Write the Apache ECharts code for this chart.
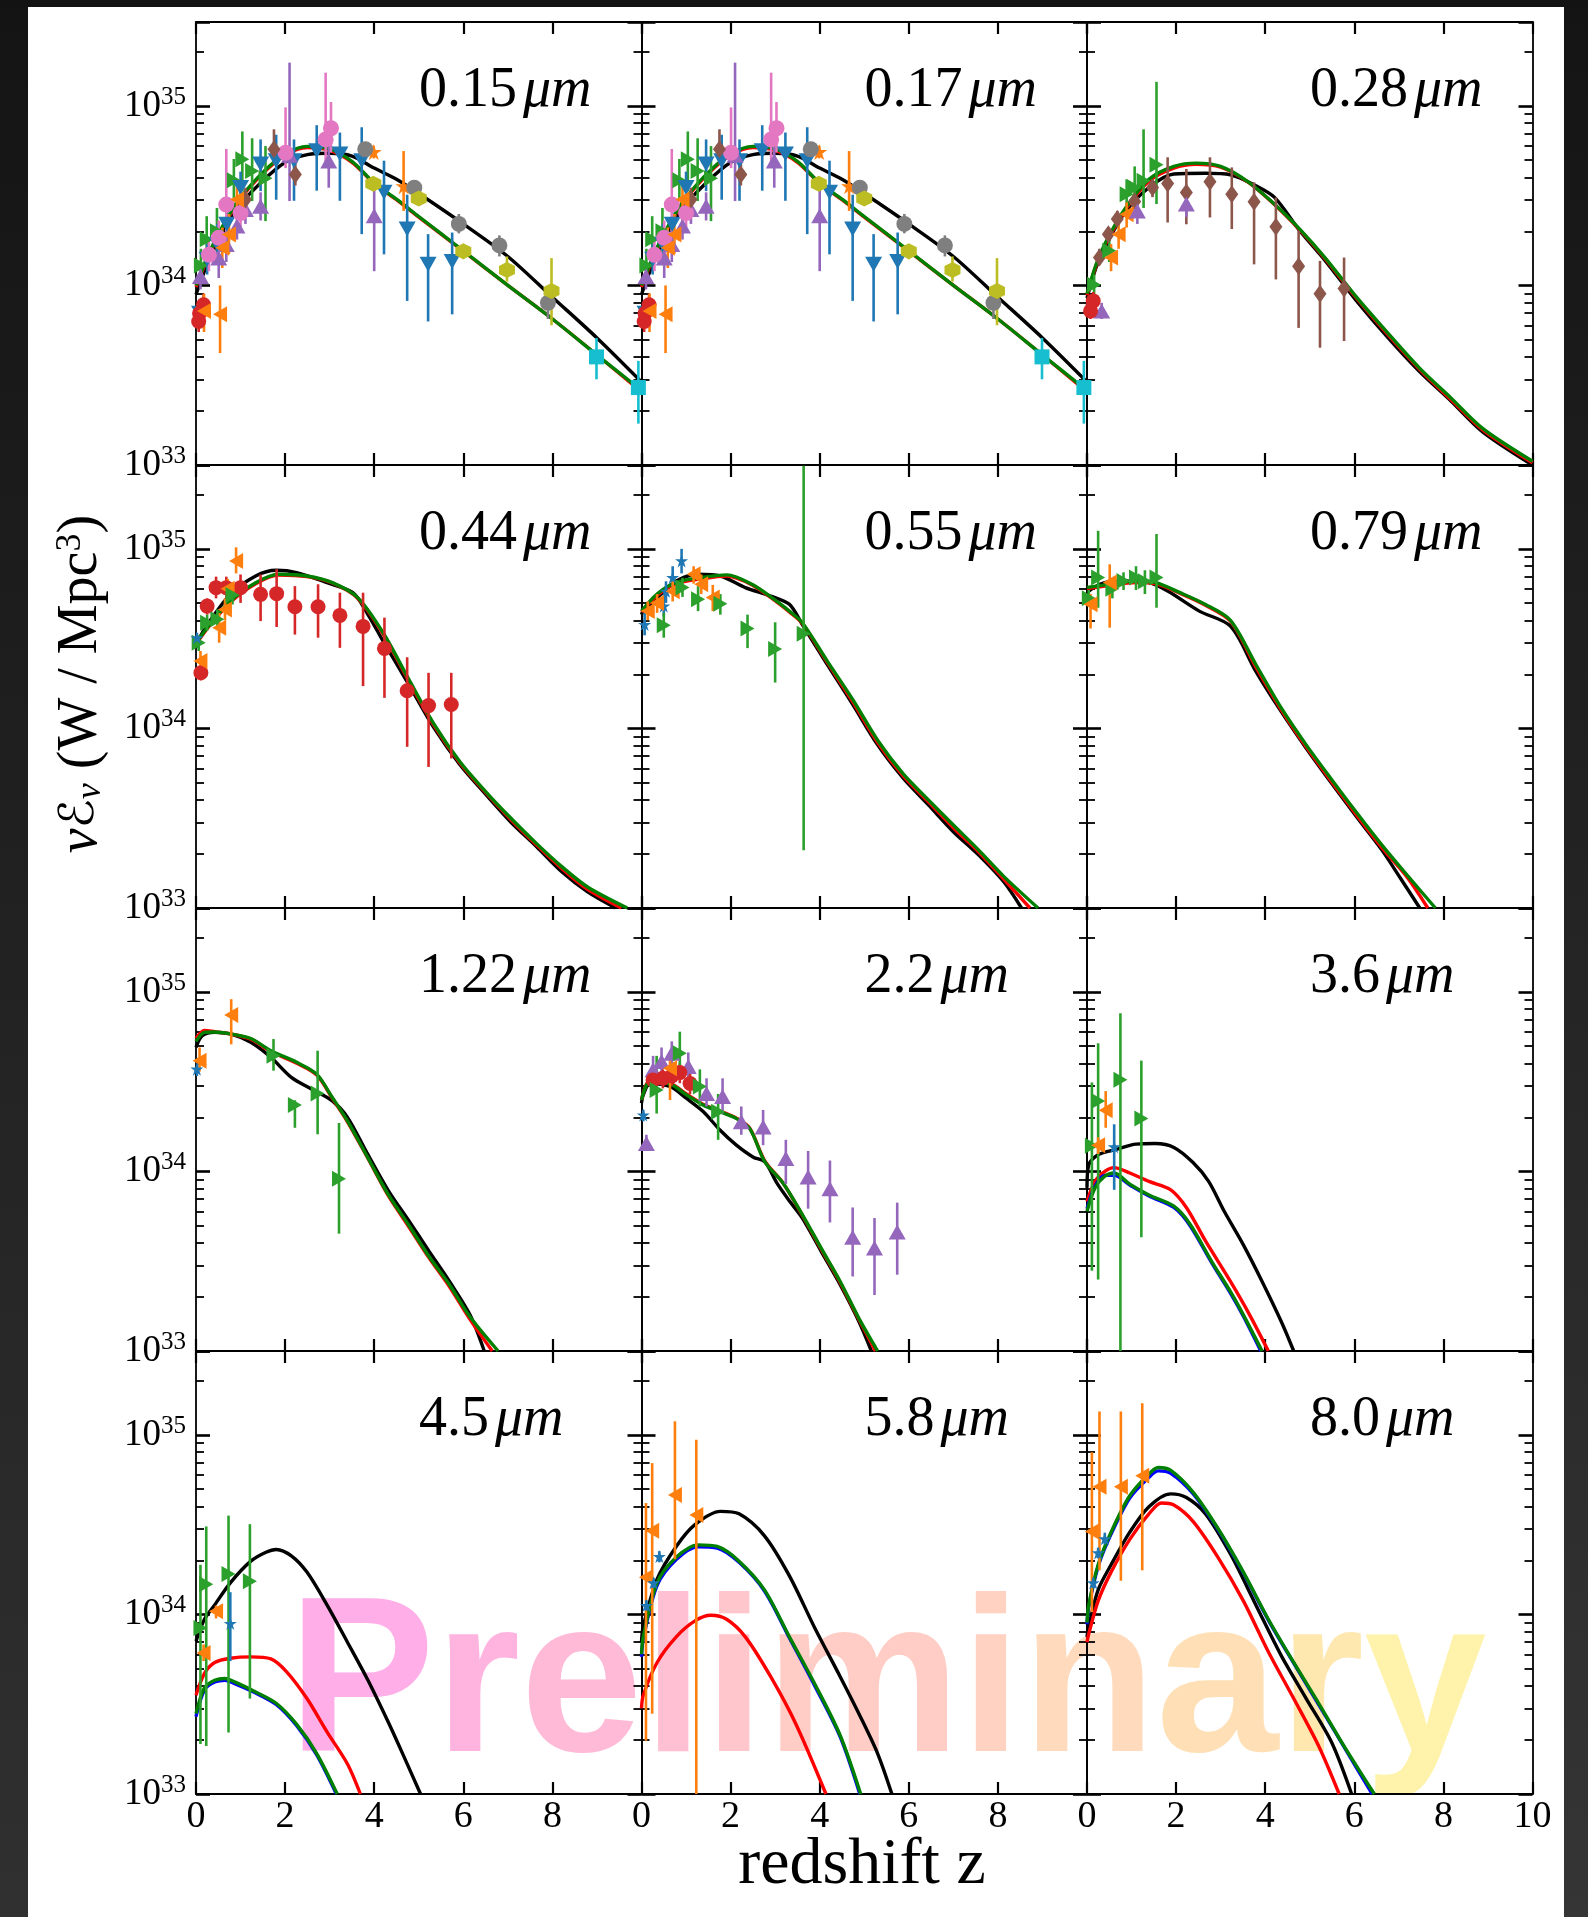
<!DOCTYPE html>
<html>
<head>
<meta charset="utf-8">
<script src="https://cdn.jsdelivr.net/npm/echarts@6/dist/echarts.min.js"></script>
<style>
  html, body { margin: 0; padding: 0; background: #ffffff; }
  #chart { width: 1588px; height: 1917px; }
</style>
</head>
<body>
<div id="chart"></div>
<script>
// Luminosity density nu*E_nu versus redshift for twelve wavebands.
// All luminosity densities are in units of 1e34 W/Mpc^3; the y axes are
// labelled in powers of ten of W/Mpc^3.

const bands = ['0.15', '0.17', '0.28', '0.44', '0.55', '0.79', '1.22', '2.2', '3.6', '4.5', '5.8', '8.0'];
const xTickValues = [0, 2, 4, 6, 8, 10];
const yTickExponents = [33, 34, 35];

// ---- model curves: [z, nuE_nu] ----
const black015 = [[0,0.89],[0.25,1.31],[0.5,1.77],[0.75,2.29],[1,2.84],[1.5,3.83],[2,4.84],[2.5,5.35],[3,5.44],[3.5,5.25],[4,4.5],[4.5,3.9],[5,3.25],[6,2.2],[7,1.45],[8,0.86],[9,0.51],[10,0.29]];
const red015   = [[0,0.98],[0.25,1.4],[0.5,1.9],[0.75,2.45],[1,3.05],[1.5,4.2],[2,5.3],[2.5,5.85],[3,5.65],[3.5,4.85],[4,3.7],[4.5,3.0],[5,2.4],[6,1.55],[7,1.0],[8,0.65],[9,0.41],[10,0.255]];
const green015 = [[0,1.0],[0.25,1.43],[0.5,1.93],[0.75,2.49],[1,3.09],[1.5,4.26],[2,5.39],[2.5,5.95],[3,5.75],[3.5,4.9],[4,3.72],[4.5,3.02],[5,2.42],[6,1.56],[7,1.0],[8,0.65],[9,0.41],[10,0.26]];

const black028 = [[0,0.85],[0.2,1.25],[0.4,1.62],[0.82,2.49],[1.39,3.51],[1.95,4.17],[2.66,4.21],[3.22,4.13],[3.79,3.59],[4.21,3.09],[4.78,2.01],[5.35,1.37],[6.05,0.82],[6.76,0.51],[7.47,0.33],[8.18,0.226],[8.88,0.153],[10,0.1]];
const red028   = [[0,0.88],[0.2,1.28],[0.4,1.67],[0.82,2.55],[1.39,3.8],[1.95,4.5],[2.45,4.72],[3.0,4.55],[3.6,3.78],[4.2,2.83],[4.78,2.03],[5.35,1.4],[6.05,0.85],[6.76,0.53],[7.47,0.34],[8.18,0.23],[8.88,0.157],[10,0.103]];
const green028 = [[0,0.9],[0.2,1.3],[0.4,1.7],[0.82,2.6],[1.39,3.9],[1.95,4.6],[2.45,4.8],[3.0,4.6],[3.6,3.8],[4.2,2.85],[4.78,2.05],[5.35,1.42],[6.05,0.86],[6.76,0.54],[7.47,0.345],[8.18,0.235],[8.88,0.16],[10,0.105]];

const black044 = [[0,2.81],[0.08,3.2],[0.31,3.96],[0.77,5.58],[1.34,7.06],[1.8,7.6],[2.26,7.38],[2.94,6.48],[3.52,5.7],[3.86,4.31],[4.2,3.06],[4.78,1.75],[5.35,1.0],[5.92,0.63],[6.5,0.43],[7.07,0.3],[7.64,0.22],[8.21,0.159],[8.79,0.123],[9.42,0.1]];
const red044   = [[0,2.95],[0.31,3.75],[0.77,5.05],[1.34,6.4],[1.86,7.15],[2.49,7.0],[3.06,6.45],[3.63,5.3],[4.2,3.35],[4.78,1.83],[5.35,1.03],[5.92,0.645],[6.5,0.44],[7.07,0.31],[7.64,0.225],[8.21,0.166],[8.79,0.127],[9.55,0.1]];
const green044 = [[0,2.99],[0.31,3.8],[0.77,5.12],[1.34,6.48],[1.86,7.22],[2.49,7.06],[3.06,6.48],[3.63,5.35],[4.2,3.41],[4.78,1.87],[5.35,1.05],[5.92,0.654],[6.5,0.445],[7.07,0.316],[7.64,0.229],[8.21,0.17],[8.79,0.131],[9.68,0.1]];

const black055 = [[0,4.3],[0.04,4.5],[0.35,5.35],[0.78,6.62],[1.27,7.22],[1.77,7.06],[2.33,6.08],[2.9,5.46],[3.32,4.91],[3.61,3.79],[4.17,2.27],[4.74,1.36],[5.3,0.81],[5.87,0.53],[6.44,0.375],[7.0,0.266],[7.57,0.197],[8.13,0.14],[8.53,0.1]];
const red055   = [[0,4.45],[0.35,5.5],[0.78,6.4],[1.34,6.8],[1.91,7.05],[2.48,6.3],[3.04,5.05],[3.32,4.45],[3.61,3.84],[4.17,2.33],[4.74,1.41],[5.3,0.835],[5.87,0.545],[6.44,0.39],[7.0,0.28],[7.57,0.205],[8.13,0.145],[8.72,0.1]];
const green055 = [[0,4.5],[0.35,5.6],[0.78,6.5],[1.34,6.92],[1.91,7.16],[2.48,6.35],[3.04,5.1],[3.32,4.5],[3.61,3.88],[4.17,2.37],[4.74,1.45],[5.3,0.86],[5.87,0.56],[6.44,0.4],[7.0,0.29],[7.57,0.21],[8.13,0.15],[8.9,0.1]];

const black079 = [[0,5.5],[0.04,5.82],[0.4,6.48],[0.82,6.62],[1.39,6.48],[1.81,5.82],[2.52,4.5],[3.22,3.71],[3.79,2.08],[4.36,1.24],[4.92,0.776],[5.49,0.495],[6.05,0.322],[6.62,0.21],[7.04,0.146],[7.47,0.1]];
const red079   = [[0,6.0],[0.4,6.2],[1.1,6.5],[1.53,6.4],[2.09,5.65],[2.66,4.85],[3.22,3.95],[3.79,2.2],[4.36,1.27],[4.92,0.79],[5.49,0.505],[6.05,0.33],[6.62,0.217],[7.19,0.148],[7.65,0.1]];
const green079 = [[0,6.1],[0.4,6.3],[1.1,6.62],[1.53,6.5],[2.09,5.7],[2.66,4.9],[3.22,4.0],[3.79,2.27],[4.36,1.3],[4.92,0.81],[5.49,0.52],[6.05,0.34],[6.62,0.224],[7.19,0.152],[7.82,0.1]];

const black122 = [[0,4.91],[0.14,5.7],[0.42,5.95],[0.77,5.83],[1.23,5.24],[1.68,4.32],[2.14,3.34],[2.6,2.87],[3.06,2.47],[3.4,2.0],[3.86,1.24],[4.32,0.78],[4.78,0.53],[5.23,0.36],[5.69,0.244],[6.15,0.159],[6.47,0.1]];
const red122   = [[0,5.5],[0.19,6.1],[0.42,6.0],[0.77,5.83],[1.23,5.45],[1.68,4.65],[2.26,4.0],[2.71,3.44],[3.06,2.55],[3.4,1.89],[3.86,1.18],[4.32,0.73],[4.78,0.49],[5.23,0.33],[5.69,0.228],[6.15,0.15],[6.65,0.1]];
const green122 = [[0,5.3],[0.19,5.95],[0.42,5.98],[0.77,5.83],[1.23,5.5],[1.68,4.7],[2.26,4.05],[2.71,3.48],[3.06,2.58],[3.4,1.91],[3.86,1.19],[4.32,0.74],[4.78,0.5],[5.23,0.336],[5.69,0.234],[6.15,0.155],[6.78,0.1]];

const black22  = [[0,2.4],[0.04,2.67],[0.19,3.09],[0.64,2.97],[1.01,2.55],[1.39,2.15],[1.76,1.7],[2.13,1.4],[2.51,1.2],[2.77,1.13],[3.03,0.87],[3.33,0.68],[3.61,0.55],[4.03,0.36],[4.46,0.234],[4.88,0.146],[5.16,0.1]];
const red22    = [[0,2.5],[0.19,3.2],[0.64,3.1],[1.01,2.7],[1.39,2.36],[1.76,2.17],[2.13,1.98],[2.43,1.74],[2.77,1.14],[3.18,0.86],[3.61,0.57],[4.03,0.37],[4.46,0.24],[4.88,0.15],[5.25,0.1]];
const green22  = [[0,2.5],[0.19,3.16],[0.64,3.07],[1.01,2.67],[1.39,2.34],[1.76,2.15],[2.13,1.97],[2.43,1.73],[2.77,1.13],[3.18,0.86],[3.61,0.575],[4.03,0.375],[4.46,0.244],[4.88,0.152],[5.3,0.1]];

const black36  = [[0,0.81],[0.04,1.09],[0.25,1.24],[0.68,1.33],[1.1,1.42],[1.53,1.43],[1.95,1.36],[2.38,1.12],[2.73,0.88],[3.08,0.6],[3.51,0.39],[3.93,0.244],[4.36,0.146],[4.64,0.1]];
const red36    = [[0,0.68],[0.18,0.88],[0.4,1.0],[0.61,1.05],[0.96,0.98],[1.39,0.88],[1.88,0.79],[2.23,0.63],[2.66,0.41],[3.22,0.244],[3.65,0.159],[4.07,0.1]];
const blue36   = [[0,0.62],[0.18,0.83],[0.4,0.95],[0.61,0.95],[0.96,0.84],[1.39,0.73],[1.95,0.63],[2.31,0.5],[2.8,0.31],[3.22,0.21],[3.51,0.156],[3.9,0.1]];
const green36  = [[0,0.6],[0.18,0.81],[0.4,0.94],[0.61,0.98],[0.96,0.85],[1.39,0.74],[1.95,0.64],[2.31,0.51],[2.8,0.315],[3.22,0.214],[3.51,0.159],[3.93,0.1]];

const black45  = [[0,0.71],[0.19,0.94],[0.42,1.13],[0.77,1.5],[1.23,1.98],[1.57,2.22],[1.8,2.3],[2.14,2.12],[2.49,1.72],[2.94,1.13],[3.4,0.7],[3.86,0.43],[4.32,0.25],[4.66,0.163],[5.04,0.1]];
const red45    = [[0,0.355],[0.19,0.47],[0.42,0.54],[0.77,0.57],[1.23,0.58],[1.68,0.565],[2.03,0.48],[2.49,0.34],[2.94,0.222],[3.4,0.147],[3.69,0.1]];
const blue45   = [[0,0.27],[0.19,0.38],[0.42,0.42],[0.65,0.43],[0.88,0.41],[1.34,0.365],[1.8,0.315],[2.26,0.24],[2.71,0.165],[3.15,0.1]];
const green45  = [[0,0.28],[0.19,0.39],[0.42,0.43],[0.65,0.44],[0.88,0.42],[1.34,0.37],[1.8,0.32],[2.26,0.244],[2.71,0.168],[3.17,0.1]];

const black58  = [[0,0.7],[0.04,0.86],[0.35,1.57],[0.78,2.39],[1.2,3.16],[1.77,3.75],[2.19,3.63],[2.76,2.74],[3.32,1.64],[3.89,0.84],[4.46,0.45],[4.88,0.28],[5.3,0.168],[5.62,0.1]];
const red58    = [[0,0.3],[0.04,0.355],[0.35,0.54],[0.78,0.75],[1.2,0.92],[1.56,0.99],[1.91,0.94],[2.33,0.75],[2.9,0.45],[3.47,0.244],[4.14,0.1]];
const blue58   = [[0,0.58],[0.04,0.73],[0.35,1.45],[0.78,2.02],[1.27,2.38],[1.7,2.34],[2.19,1.95],[2.76,1.35],[3.32,0.74],[3.89,0.4],[4.46,0.208],[4.9,0.1]];
const green58  = [[0,0.6],[0.04,0.75],[0.35,1.5],[0.78,2.08],[1.27,2.44],[1.7,2.39],[2.19,1.98],[2.76,1.37],[3.32,0.75],[3.89,0.41],[4.46,0.212],[4.92,0.1]];

const black80  = [[0,0.75],[0.04,0.86],[0.25,1.37],[0.54,1.89],[0.96,2.87],[1.39,3.98],[1.88,4.69],[2.23,4.48],[2.66,3.63],[3.22,2.17],[3.79,1.13],[4.36,0.59],[4.92,0.34],[5.49,0.194],[5.94,0.1]];
const red80    = [[0,0.7],[0.04,0.78],[0.25,1.19],[0.54,1.72],[0.96,2.62],[1.39,3.63],[1.67,4.17],[1.95,4.07],[2.38,3.3],[2.94,2.08],[3.51,1.19],[4.07,0.62],[4.64,0.34],[5.2,0.185],[5.66,0.1]];
const blue80   = [[0,0.88],[0.04,1.1],[0.25,1.85],[0.54,2.8],[0.96,4.45],[1.39,5.8],[1.6,6.3],[1.88,6.1],[2.38,4.7],[2.94,2.97],[3.51,1.7],[4.07,0.93],[4.64,0.535],[5.2,0.315],[5.77,0.183],[6.4,0.1]];
const green80  = [[0,0.9],[0.04,1.13],[0.25,1.89],[0.54,2.87],[0.96,4.58],[1.39,6.05],[1.6,6.58],[1.88,6.34],[2.38,4.8],[2.94,3.01],[3.51,1.72],[4.07,0.94],[4.64,0.54],[5.2,0.32],[5.77,0.185],[6.45,0.1]];

// ---- measurements: [z, value, lower, upper, marker] ----
const obs015 = [
  [0.11,1.29,1.05,1.6,'G'],[0.24,1.81,1.4,2.43,'G'],[0.47,2.0,1.5,2.7,'G'],[0.85,3.85,3.06,5.06,'G'],[1.04,5.04,3.35,7.2,'G'],[1.26,4.33,2.95,6.6,'G'],[1.56,3.95,2.28,5.97,'G'],
  [0.08,0.7,0.6,0.8,'B'],[0.25,1.4,1.15,1.7,'B'],[0.48,1.69,1.3,2.2,'B'],[0.69,2.19,1.8,2.8,'B'],[1.0,3.51,2.7,4.3,'B'],[1.45,4.74,3.35,6.5,'B'],[1.8,4.95,3.0,6.9,'B'],[2.2,4.95,2.96,6.5,'B'],[2.71,5.63,3.37,7.8,'B'],[3.23,5.4,2.96,7.1,'B'],[3.72,4.95,1.93,7.6,'B'],[4.22,3.3,1.49,4.95,'B'],[4.74,2.06,0.82,3.2,'B'],[5.21,1.31,0.63,1.93,'B'],[5.75,1.36,0.69,1.97,'B'],
  [0.1,1.12,0.95,1.35,'P'],[0.51,1.42,1.1,1.8,'P'],[0.68,1.69,1.35,2.1,'P'],[0.92,2.14,1.8,2.6,'P'],[1.11,2.65,2.2,3.2,'P'],[1.45,2.76,2.3,3.3,'P'],[2.1,5.3,2.95,17.4,'P'],[2.98,4.93,3.5,6.4,'P'],[4.0,2.44,1.2,3.83,'P'],
  [0.29,1.48,1.2,1.8,'K'],[0.51,1.84,1.5,2.3,'K'],[0.68,2.82,2.0,5.75,'K'],[1.0,2.53,2.1,3.0,'K'],[2.01,5.48,4.5,9.8,'K'],[2.91,6.5,4.6,15.3,'K'],[3.03,7.5,5.5,10.5,'K'],
  [1.11,3.01,2.6,3.5,'D'],[1.75,5.73,4.7,7.4,'D'],[2.23,4.15,3.6,4.8,'D'],
  [0.06,0.63,0.55,0.72,'R'],[0.17,0.78,0.68,0.9,'R'],[0.08,0.7,0.6,0.8,'R'],
  [0.18,0.72,0.55,0.9,'O'],[0.54,0.69,0.42,1.0,'O'],[0.59,1.62,1.25,2.1,'O'],[0.74,1.92,1.5,2.5,'O'],[0.92,3.01,2.5,3.6,'O'],
  [3.99,5.53,5.1,6.0,'S'],[4.66,3.57,2.6,5.6,'S'],
  [3.8,5.73,5.2,6.3,'A'],[4.9,3.5,3.2,3.85,'A'],[5.9,2.2,1.95,2.5,'A'],[6.81,1.67,1.45,1.9,'A'],[7.9,0.8,0.65,0.95,'A'],
  [3.98,3.68,3.4,4.0,'Y'],[5.0,3.05,2.8,3.3,'Y'],[6.0,1.55,1.4,1.7,'Y'],[6.98,1.22,1.05,1.45,'Y'],[7.98,0.93,0.6,1.42,'Y'],
  [8.99,0.4,0.3,0.51,'C'],[9.93,0.27,0.17,0.38,'C']
];

const obs028 = [
  [0.11,0.78,0.7,0.86,'D'],[0.28,1.43,1.3,1.6,'D'],[0.48,1.93,1.75,2.1,'D'],[0.68,2.34,2.1,2.6,'D'],[1.07,2.93,2.6,3.3,'D'],[1.47,3.51,3.1,3.9,'D'],
  [1.81,3.7,2.24,5.17,'D'],[2.23,3.29,2.19,4.45,'D'],[2.76,3.78,2.39,5.17,'D'],[3.25,3.22,2.06,4.54,'D'],[3.75,2.92,1.31,3.75,'D'],[4.24,2.12,1.08,3.09,'D'],[4.75,1.28,0.58,2.01,'D'],[5.23,0.9,0.45,1.37,'D'],[5.77,0.96,0.49,1.43,'D'],
  [0.16,1.01,0.9,1.15,'G'],[0.5,1.56,1.35,1.8,'G'],[0.89,3.22,2.5,3.9,'G'],[1.07,3.51,2.7,4.6,'G'],[1.27,3.83,2.7,7.4,'G'],[1.56,4.7,2.84,13.6,'G'],
  [0.54,1.43,1.2,1.7,'O'],[0.71,1.93,1.6,2.3,'O'],[0.89,2.49,2.1,2.9,'O'],
  [0.33,0.72,0.65,0.8,'P'],[1.13,2.6,2.2,3.1,'P'],[2.23,2.84,2.4,3.3,'P'],
  [0.14,0.82,0.72,0.92,'R'],[0.08,0.72,0.65,0.8,'R']
];

const obs044 = [
  [0.11,2.04,1.85,2.25,'R'],[0.25,4.8,4.3,5.3,'R'],[0.45,6.08,5.3,7.0,'R'],[0.68,6.08,5.3,7.0,'R'],[1.0,6.08,5.0,7.2,'R'],[1.45,5.58,3.96,7.2,'R'],[1.81,5.63,3.67,7.7,'R'],[2.22,4.76,3.33,6.2,'R'],[2.74,4.76,3.2,6.35,'R'],[3.23,4.26,2.81,5.7,'R'],[3.75,3.7,1.72,5.7,'R'],[4.23,2.79,1.48,4.14,'R'],[4.74,1.62,0.79,2.49,'R'],[5.22,1.34,0.61,2.04,'R'],[5.73,1.36,0.68,2.04,'R'],
  [0.1,2.37,2.1,2.7,'O'],[0.52,3.64,3.0,4.4,'O'],[0.65,4.6,4.0,5.3,'O'],[0.71,6.0,5.3,6.8,'O'],[0.9,8.57,7.3,10.2,'O'],
  [0.06,3.0,2.7,3.3,'G'],[0.25,3.88,3.5,4.3,'G'],[0.48,4.05,3.6,4.6,'G'],[0.82,5.53,4.9,6.2,'G'],
  [0.02,3.2,3.0,3.4,'b']
];

const obs055 = [
  [0.07,3.79,3.3,4.4,'b'],[0.5,4.8,4.2,5.5,'b'],[0.55,5.8,5.0,6.6,'b'],[0.7,6.92,6.0,8.0,'b'],[0.9,8.57,7.3,10.0,'b'],
  [0.14,4.5,4.0,5.1,'O'],[0.35,4.99,4.4,5.6,'O'],[0.7,5.8,5.1,6.6,'O'],[1.17,7.22,6.4,8.0,'O'],[1.34,6.35,5.6,7.2,'O'],[1.6,5.35,4.5,6.3,'O'],
  [0.5,3.76,3.2,4.4,'G'],[0.92,6.1,5.4,6.9,'G'],[1.27,5.24,4.5,6.2,'G'],[1.77,4.95,4.3,5.6,'G'],[2.38,3.6,2.8,4.3,'G'],[3.0,2.77,1.8,3.9,'G'],[3.64,3.37,0.21,29.0,'G']
];

const obs079 = [
  [0.04,5.3,4.8,5.9,'G'],[0.25,6.92,4.7,12.6,'G'],[0.57,6.0,5.3,6.8,'G'],[0.82,6.62,5.9,7.4,'G'],[1.1,6.92,5.9,8.0,'G'],[1.3,6.6,5.6,7.6,'G'],[1.56,6.92,4.7,12.1,'G'],
  [0.08,4.91,3.6,5.6,'O'],[0.51,6.5,3.64,8.2,'O']
];

const obs122 = [
  [0.79,7.44,5.1,9.1,'O'],[0.08,4.13,3.6,4.9,'O'],
  [0.02,3.71,3.4,4.0,'b'],
  [1.74,4.41,3.64,5.46,'G'],[2.22,2.34,1.75,2.49,'G'],[2.73,2.72,1.61,4.7,'G'],[3.21,0.91,0.45,1.86,'G']
];

const obs22 = [
  [0.11,1.43,1.3,1.6,'P'],[0.26,3.68,3.0,4.4,'P'],[0.45,4.09,3.4,4.9,'P'],[0.68,4.55,3.9,5.3,'P'],[1.05,3.84,3.2,4.6,'P'],[1.46,2.72,2.3,3.3,'P'],[1.82,2.61,2.1,3.3,'P'],[2.24,1.89,1.6,2.3,'P'],[2.73,1.77,1.4,2.2,'P'],[3.24,1.18,0.85,1.5,'P'],[3.74,0.93,0.62,1.3,'P'],[4.23,0.8,0.52,1.15,'P'],[4.74,0.43,0.26,0.63,'P'],[5.23,0.375,0.205,0.55,'P'],[5.74,0.46,0.266,0.67,'P'],
  [0.26,3.23,2.9,3.6,'R'],[0.48,3.3,2.9,3.7,'R'],[0.68,3.4,3.0,3.8,'R'],[0.86,3.55,3.1,4.0,'R'],[1.09,3.09,2.7,3.5,'R'],
  [0.64,3.75,2.5,4.3,'O'],
  [0.34,2.84,2.1,4.4,'G'],[0.86,4.55,3.3,6.0,'G'],[1.31,2.97,2.3,3.7,'G'],[1.72,2.15,1.5,2.7,'G'],
  [0.04,2.06,1.9,2.2,'b']
];

const obs36 = [
  [0.11,1.39,0.28,3.13,'G'],[0.25,2.47,0.25,5.17,'G'],[0.75,3.24,0.08,7.6,'G'],[1.22,1.97,0.43,4.14,'G'],
  [0.25,1.4,1.25,1.55,'O'],[0.42,2.19,1.75,2.8,'O'],
  [0.61,1.37,0.79,1.83,'b']
];

const obs45 = [
  [0.1,0.84,0.19,1.89,'G'],[0.23,1.47,0.185,3.09,'G'],[0.73,1.68,0.22,3.55,'G'],[1.21,1.53,0.34,3.18,'G'],
  [0.17,0.61,0.55,0.68,'O'],[0.45,1.04,0.95,1.12,'O'],
  [0.77,0.89,0.55,1.33,'b']
];

const obs58 = [
  [0.1,1.61,0.198,4.17,'O'],[0.24,2.92,0.28,6.96,'O'],[0.75,4.62,2.03,11.9,'O'],[1.23,3.58,0.05,9.4,'O'],
  [0.11,1.12,1.05,1.2,'b'],[0.27,1.5,1.4,1.6,'b'],[0.4,2.1,1.95,2.25,'b']
];

const obs80 = [
  [0.11,2.9,1.03,8.0,'O'],[0.28,5.14,1.76,13.5,'O'],[0.76,5.14,1.54,13.5,'O'],[1.24,5.91,1.76,15.0,'O'],
  [0.14,1.5,1.4,1.6,'b'],[0.25,2.2,2.05,2.35,'b'],[0.4,2.64,2.45,2.85,'b']
];

// ---- styles ----
const SERIF = "'Liberation Serif', 'Times New Roman', serif";
const MODEL_COLORS = { black: '#000000', red: '#ff0000', blue: '#0000ff', green: '#008000' };
const STAR = 'path://M5,0L6.2,3.6L10,3.6L6.9,5.8L8.1,9.5L5,7.2L1.9,9.5L3.1,5.8L0,3.6L3.8,3.6Z';
const HEX = 'path://M5,0L9.33,2.5L9.33,7.5L5,10L0.67,7.5L0.67,2.5Z';
const MARKERS = {
  G: { color: '#2ca02c', symbol: 'path://M0,0L10,5L0,10Z', size: [14, 16] },
  O: { color: '#ff7f0e', symbol: 'path://M10,0L0,5L10,10Z', size: [14, 16] },
  S: { color: '#ff7f0e', symbol: STAR, size: 16 },
  B: { color: '#1f77b4', symbol: 'path://M0,0L10,0L5,10Z', size: [17, 15] },
  b: { color: '#1f77b4', symbol: STAR, size: 13 },
  P: { color: '#9467bd', symbol: 'triangle', size: [17, 15] },
  D: { color: '#8c564b', symbol: 'diamond', size: [13, 18] },
  K: { color: '#e377c2', symbol: 'circle', size: 16 },
  R: { color: '#d62728', symbol: 'circle', size: 15 },
  A: { color: '#7f7f7f', symbol: 'circle', size: 16 },
  Y: { color: '#bcbd22', symbol: HEX, size: 16 },
  C: { color: '#17becf', symbol: 'rect', size: 15 }
};

const panels = [
  { curves: { black: black015, red: red015, green: green015 }, obs: obs015 },
  { curves: { black: black015, red: red015, green: green015 }, obs: obs015 },
  { curves: { black: black028, red: red028, green: green028 }, obs: obs028 },
  { curves: { black: black044, red: red044, green: green044 }, obs: obs044 },
  { curves: { black: black055, red: red055, green: green055 }, obs: obs055 },
  { curves: { black: black079, red: red079, green: green079 }, obs: obs079 },
  { curves: { black: black122, red: red122, green: green122 }, obs: obs122 },
  { curves: { black: black22, red: red22, green: green22 }, obs: obs22 },
  { curves: { black: black36, red: red36, blue: blue36, green: green36 }, obs: obs36 },
  { curves: { black: black45, red: red45, blue: blue45, green: green45 }, obs: obs45 },
  { curves: { black: black58, red: red58, blue: blue58, green: green58 }, obs: obs58 },
  { curves: { black: black80, red: red80, blue: blue80, green: green80 }, obs: obs80 }
];

// ---- layout ----
const GRID_LEFT = [196, 641.5, 1087];
const GRID_TOP = [22, 465, 908, 1351];
const GRID_W = 445.5, GRID_H = 443;
const Y_MIN = 0.1, Y_MAX = 29.3;   // 1e33 .. ~2.9e35 W/Mpc^3

const AXIS_LINE = { show: true, onZero: false, lineStyle: { color: '#000', width: 1.8 } };

function powerLabel(value) {
  const lg = Math.log10(value);
  const e = Math.round(lg);
  if (Math.abs(lg - e) > 1e-6) return '';
  const exp = e + 34;
  if (yTickExponents.indexOf(exp) < 0) return '';
  return '{b|10}{s|' + exp + '}';
}

function xAxisDef(i, pos, showLabels, showMax) {
  return {
    gridIndex: i, type: 'value', position: pos, min: xTickValues[0], max: xTickValues[xTickValues.length - 1], interval: 2, z: 5,
    axisLine: AXIS_LINE,
    axisTick: { show: true, inside: true, length: 12, lineStyle: { color: '#000', width: 2.2 } },
    axisLabel: { show: showLabels, showMinLabel: true, showMaxLabel: showMax, margin: 4, color: '#000',
                 fontFamily: SERIF, fontSize: 38, formatter: v => String(v) },
    splitLine: { show: false }
  };
}

function yAxisDef(i, pos, showLabels) {
  return {
    gridIndex: i, type: 'log', logBase: 10, position: pos, min: Y_MIN, max: Y_MAX, z: 5,
    axisLine: AXIS_LINE,
    axisTick: { show: true, inside: true, length: 14, lineStyle: { color: '#000', width: 2.6 } },
    minorTick: { show: true, splitNumber: 9, length: 8, lineStyle: { color: '#000', width: 1.8 } },
    axisLabel: {
      show: showLabels, margin: 10, formatter: powerLabel,
      rich: {
        b: { fontFamily: SERIF, fontSize: 37, color: '#000', lineHeight: 42 },
        s: { fontFamily: SERIF, fontSize: 25, color: '#000', lineHeight: 22, verticalAlign: 'top' }
      }
    },
    splitLine: { show: false }, minorSplitLine: { show: false }
  };
}

const option = {
  animation: false,
  backgroundColor: '#ffffff',
  grid: [], xAxis: [], yAxis: [], series: [],
  graphic: { elements: [] }
};

panels.forEach((p, i) => {
  const r = Math.floor(i / 3), c = i % 3;
  option.grid.push({ left: GRID_LEFT[c], top: GRID_TOP[r], width: GRID_W, height: GRID_H,
                     containLabel: false, outerBoundsMode: 'none', show: false });
  option.xAxis.push(xAxisDef(i, 'bottom', r === 3, c === 2));
  option.xAxis.push(xAxisDef(i, 'top', false, false));
  option.yAxis.push(yAxisDef(i, 'left', c === 0));
  option.yAxis.push(yAxisDef(i, 'right', false));
  const xi = 2 * i, yi = 2 * i;

  ['black', 'red', 'blue', 'green'].forEach(name => {
    const data = p.curves[name];
    if (!data) return;
    option.series.push({
      type: 'line', xAxisIndex: xi, yAxisIndex: yi, data: data, silent: true,
      showSymbol: false, symbol: 'none', smooth: 0.3, clip: true, z: 6,
      lineStyle: { color: MODEL_COLORS[name], width: 3.4 }
    });
  });

  const codes = [];
  p.obs.forEach(o => { if (codes.indexOf(o[4]) < 0) codes.push(o[4]); });
  codes.forEach(code => {
    const rows = p.obs.filter(o => o[4] === code);
    const m = MARKERS[code];
    option.series.push({
      type: 'custom', xAxisIndex: xi, yAxisIndex: yi, clip: true, silent: true, z: 7,
      data: rows.map(o => [o[0], o[1], o[2], o[3]]),
      encode: { x: 0, y: 1 },
      renderItem: (params, api) => {
        const cs = params.coordSys;
        const top = api.coord([api.value(0), api.value(3)]);
        const bot = api.coord([api.value(0), api.value(2)]);
        const y1 = Math.max(cs.y, Math.min(cs.y + cs.height, top[1]));
        const y2 = Math.max(cs.y, Math.min(cs.y + cs.height, bot[1]));
        return { type: 'line', shape: { x1: top[0], y1: y1, x2: bot[0], y2: y2 },
                 style: { stroke: m.color, lineWidth: 2.6 } };
      }
    });
    option.series.push({
      type: 'scatter', xAxisIndex: xi, yAxisIndex: yi, silent: true, z: 8,
      data: rows.map(o => [o[0], o[1]]),
      symbol: m.symbol, symbolSize: m.size, symbolKeepAspect: false,
      itemStyle: { color: m.color, opacity: 1 }
    });
  });

  // waveband title
  option.graphic.elements.push({
    type: 'text', z: 9, silent: true,
    style: {
      text: '{n|' + bands[i] + '}{u|\u03bcm}',
      x: GRID_LEFT[c] + 223, y: GRID_TOP[r] + 69, align: 'left', verticalAlign: 'middle',
      rich: {
        n: { fontFamily: SERIF, fontSize: 56, fill: '#000' },
        u: { fontFamily: SERIF, fontSize: 56, fontStyle: 'italic', fill: '#000', padding: [0, 0, 0, 6] }
      }
    }
  });
});

// watermark, drawn beneath the axes and curves
const WATERMARK = 'Preliminary';
const WATERMARK_COLORS = ['#ffaee8', '#ffb4e0', '#ffbad8', '#ffc0d4', '#ffc6cc', '#ffccc6', '#ffd2c2', '#ffdabc', '#ffe0b6', '#ffe7b0', '#fff2aa'];
const wmRich = {};
WATERMARK.split('').forEach((ch, k) => {
  wmRich['w' + k] = { fontFamily: "'Liberation Sans', Arial, sans-serif", fontWeight: 'bold', fontSize: 220, fill: WATERMARK_COLORS[k] };
});
option.graphic.elements.push({
  type: 'text', z: 1, silent: true,
  style: {
    text: WATERMARK.split('').map((ch, k) => '{w' + k + '|' + ch + '}').join(''),
    x: 288, y: 1690, align: 'left', verticalAlign: 'middle', rich: wmRich
  }
});
// keep the watermark inside the plotting area
option.graphic.elements.push({
  type: 'rect', z: 2, silent: true,
  shape: { x: 196, y: 1794.5, width: 1370, height: 123 }, style: { fill: '#ffffff' }
});

// axis titles
option.graphic.elements.push({
  type: 'text', z: 9, silent: true, x: 81, y: 684, rotation: Math.PI / 2,
  style: {
    text: '{i|\u03bd}{e|\u2130}{sub|\u03bd}{t| (W / Mpc}{sup|3}{t|)}',
    x: 0, y: 0, align: 'center', verticalAlign: 'middle',
    rich: {
      i:   { fontFamily: SERIF, fontStyle: 'italic', fontSize: 56, lineHeight: 56, fill: '#000' },
      e:   { fontFamily: "'DejaVu Serif', 'DejaVu Sans', serif", fontSize: 48, lineHeight: 56, fill: '#000' },
      sub: { fontFamily: SERIF, fontStyle: 'italic', fontSize: 36, lineHeight: 22, verticalAlign: 'bottom', fill: '#000' },
      t:   { fontFamily: SERIF, fontSize: 56, lineHeight: 56, fill: '#000' },
      sup: { fontFamily: SERIF, fontSize: 36, lineHeight: 12, verticalAlign: 'top', fill: '#000' }
    }
  }
});
option.graphic.elements.push({
  type: 'text', z: 9, silent: true,
  style: { text: 'redshift z', x: 862, y: 1866, align: 'center', verticalAlign: 'middle',
           fontFamily: SERIF, fontSize: 66, fill: '#000' }
});

// dark frame around the figure
option.graphic.elements.push(
  { type: 'rect', z: 20, silent: true, shape: { x: 0, y: 0, width: 28, height: 1917 },
    style: { fill: { type: 'linear', x: 0, y: 0, x2: 0, y2: 1, colorStops: [{ offset: 0, color: '#141414' }, { offset: 1, color: '#303030' }] } } },
  { type: 'rect', z: 20, silent: true, shape: { x: 1564, y: 0, width: 24, height: 1917 },
    style: { fill: { type: 'linear', x: 0, y: 0, x2: 0, y2: 1, colorStops: [{ offset: 0, color: '#141414' }, { offset: 1, color: '#353535' }] } } },
  { type: 'rect', z: 20, silent: true, shape: { x: 0, y: 0, width: 1588, height: 7 }, style: { fill: '#131313' } }
);

const chart = echarts.init(document.getElementById('chart'), null, { renderer: 'canvas' });
chart.setOption(option);
</script>
</body>
</html>
